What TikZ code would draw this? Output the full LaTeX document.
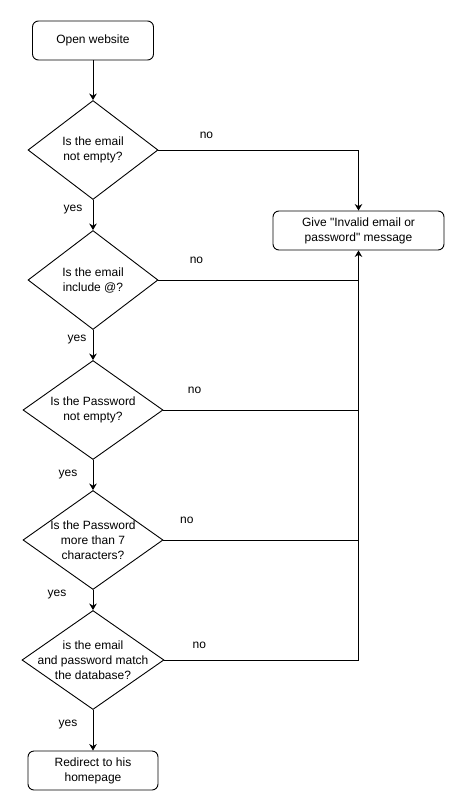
\documentclass[tikz,border=0pt]{standalone}
\usepackage{fontspec}
\setmainfont{Liberation Sans}
\newfontfamily\plainsans{Liberation Sans}
\usetikzlibrary{shapes.geometric,arrows.meta}

\begin{document}
\begin{tikzpicture}[x=1pt,y=-1pt,
		every node/.style={font=\plainsans\fontsize{12}{15}\selectfont},
		stepbox/.style={draw,line width=0.9pt,rounded corners=6pt,align=center,minimum height=39pt,inner sep=0pt},
		decision/.style={draw,line width=0.9pt,diamond,inner sep=0pt,minimum height=99pt},
		flow/.style={line width=0.9pt,-{Stealth[length=6.5pt,width=7.5pt]}},
		joint/.style={line width=0.9pt},
		lbl/.style={inner sep=0pt}]

		\useasboundingbox (0,0) rectangle (464,811);

		% boxes and checks
		\node[stepbox,minimum width=121pt] (open) at (93,40.5) {Open website};
		\node[decision,minimum width=130pt,label={[align=center]center:Is the email\\not empty?}] (email) at (93,150) {};
		\node[decision,minimum width=130pt,label={[align=center]center:Is the email\\include @?}] (atsign) at (93,280) {};
		\node[decision,minimum width=140pt,label={[align=center]center:Is the Password\\not empty?}] (pwd) at (93,410) {};
		\node[decision,minimum width=140pt,label={[align=center]center:Is the Password\\more than 7\\characters?}] (pwdlen) at (93,540) {};
		\node[decision,minimum width=142pt,label={[align=center]center:is the email\\and password match\\the database?}] (match) at (93,660) {};
		\node[stepbox,minimum width=130pt] (home) at (93,770.5) {Redirect to his\\homepage};
		\node[stepbox,minimum width=171pt] (invalid) at (358.5,230.5) {Give "Invalid email or\\password" message};

		% yes branch
		\draw[flow] (open) -- (email);
		\draw[flow] (email) -- node[lbl,pos=0.33,xshift=-20pt] {yes} (atsign);
		\draw[flow] (atsign) -- node[lbl,pos=0.32,xshift=-16pt] {yes} (pwd);
		\draw[flow] (pwd) -- node[lbl,pos=0.48,xshift=-25pt] {yes} (pwdlen);
		\draw[flow] (pwdlen) -- node[lbl,pos=0.24,xshift=-36pt] {yes} (match);
		\draw[flow] (match) -- node[lbl,pos=0.37,xshift=-25pt] {yes} (home);

		% no branch
		\draw[flow] (email) -| node[lbl,pos=0.12,yshift=15pt] {no} (invalid);
		\draw[joint] (atsign) -- node[lbl,pos=0.19,yshift=20pt] {no} (atsign -| invalid);
		\draw[joint] (pwd) -- node[lbl,pos=0.16,yshift=20pt] {no} (pwd -| invalid);
		\draw[joint] (pwdlen) -- node[lbl,pos=0.12,yshift=20pt] {no} (pwdlen -| invalid);
		\draw[flow] (match) -| node[lbl,pos=0.09,yshift=15pt] {no} (invalid);

\end{tikzpicture}
\end{document}
